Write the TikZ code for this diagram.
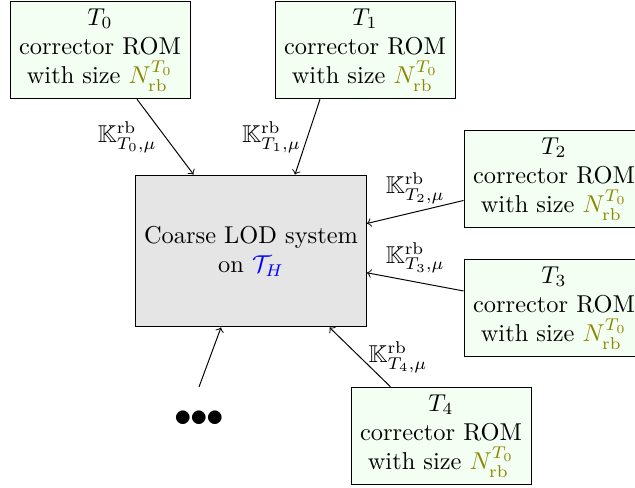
\documentclass[tikz,border=0pt]{standalone}
\usepackage{amsmath,amssymb}
\usetikzlibrary{calc}
\begin{document}
\begin{tikzpicture}[x=0.41pt,y=-0.41pt,
		rombox/.style={draw,fill=green!5,align=center,minimum width=73.8pt,minimum height=40pt,inner sep=2pt},
		lodbox/.style={draw,fill=gray!20,align=center,minimum width=94.7pt,minimum height=62.3pt}]
		\useasboundingbox (0,0) rectangle (635,488);
		% Boîtes
		\node [lodbox] (lod) at (251,251) {Coarse LOD system\\ on \textcolor{blue}{$\mathcal{T}_H$}};
		\node [rombox] (t0) at (100,50) {$T_0$\\ corrector ROM\\ with size \textcolor{olive}{$N_{\text{rb}}^{T_0}$}};
		\node [rombox] (t1) at (365,50) {$T_1$\\ corrector ROM\\ with size \textcolor{olive}{$N_{\text{rb}}^{T_0}$}};
		\node [rombox] (t2) at (554,179) {$T_2$\\ corrector ROM\\ with size \textcolor{olive}{$N_{\text{rb}}^{T_0}$}};
		\node [rombox] (t3) at (554,308) {$T_3$\\ corrector ROM\\ with size \textcolor{olive}{$N_{\text{rb}}^{T_0}$}};
		\node [rombox] (t4) at (441,436) {$T_4$\\ corrector ROM\\ with size \textcolor{olive}{$N_{\text{rb}}^{T_0}$}};
		\node (dots) at (199,419) {\Large$\mathord{\bullet}\kern-.6pt\mathord{\bullet}\kern-.6pt\mathord{\bullet}$};
		% Flèches
		\draw [->] (t0) -- (lod) node [midway,left]{$\mathbb{K}^{\text{rb}}_{T_0,\mu}$};
		\draw [->] ($(t1.south)+(-45,0)$) -- ($(lod.north)+(44,0)$) node [midway,left,inner sep=2.5pt]{$\mathbb{K}^{\text{rb}}_{T_1,\mu}$};
		\draw [->] (t2) -- (lod) node [midway,above]{$\mathbb{K}^{\text{rb}}_{T_2,\mu}$};
		\draw [->] (t3) -- (lod) node [midway,above]{$\mathbb{K}^{\text{rb}}_{T_3,\mu}$};
		\draw [->] (t4) -- (lod) node [midway,right]{$\mathbb{K}^{\text{rb}}_{T_4,\mu}$};
		\draw [->] ($(dots)+(0,-32)$) -- ($(lod.south)+(-30,0)$);
\end{tikzpicture}
\end{document}
